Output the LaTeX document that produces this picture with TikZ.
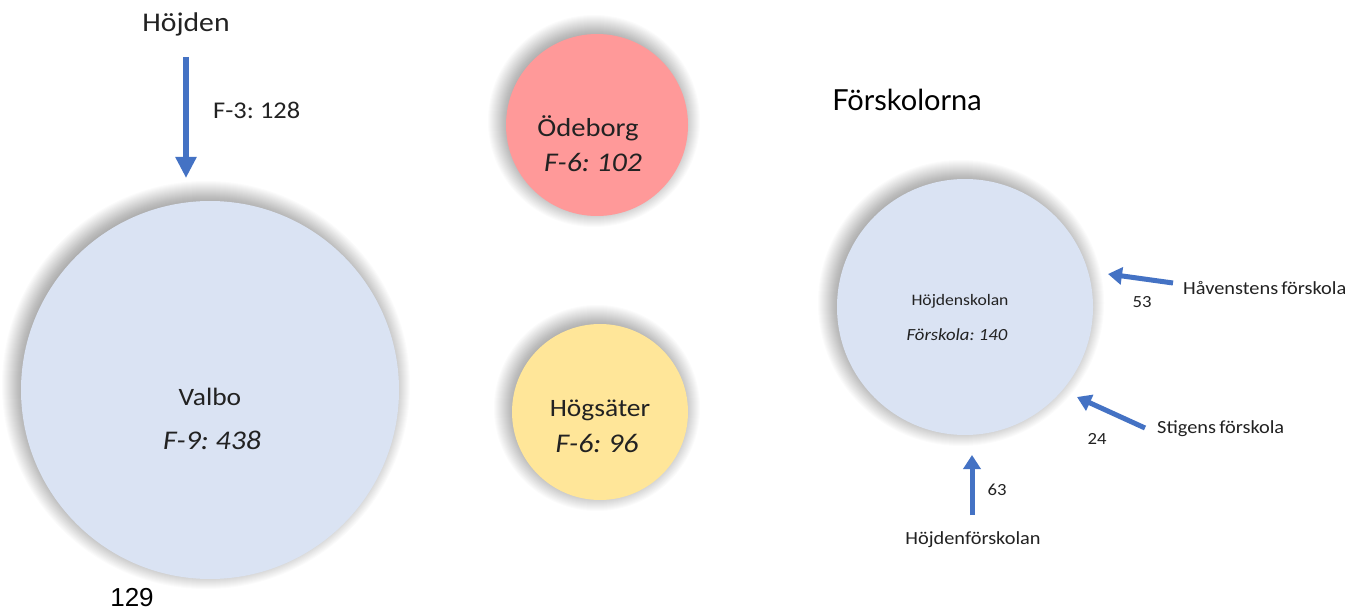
\documentclass[tikz,border=0pt]{standalone}
\usepackage{fontspec}
\setmainfont[FakeStretch=1.1,WordSpace=0.7]{Carlito}
\newfontfamily\latofont{Lato}
\newfontfamily\arialfont{Liberation Sans}
\usetikzlibrary{arrows.meta}
\definecolor{arrowblue}{HTML}{4472C4}
\definecolor{paleblue}{HTML}{DAE3F3}
\definecolor{salmon}{HTML}{FF9999}
\definecolor{paleyellow}{HTML}{FFE699}
\definecolor{txt}{HTML}{222222}
\newcommand\bubshadow[3]{%
  \foreach \k in {1,...,22}{\fill[black, opacity=0.016] (#1,#2) circle[radius=#3+\k];}}
\tikzset{
  bubble/.style={circle, inner sep=0pt, draw=none},
  lbl/.style={inner sep=0pt, text=txt, anchor=center},
  bigflow/.style={draw=arrowblue, line width=6.5pt, -{Triangle[width=20pt,length=21pt]}},
  smallflow/.style={draw=arrowblue, line width=5pt, -{Triangle[width=17pt,length=14pt]}},
}
\begin{document}
\begin{tikzpicture}[x=1pt,y=-1pt]
\fill[white] (0,0) rectangle (1355,612);
\useasboundingbox (0,0) rectangle (1355,612);

% shadows
\bubshadow{206}{385}{182}
\bubshadow{594}{121}{84}
\bubshadow{597}{408}{81}
\bubshadow{961}{303}{121}

% circles
\node[bubble, fill=paleblue, minimum size=378pt] (valbo) at (210,390) {};
\node[bubble, fill=salmon, minimum size=182pt] (odeborg) at (597,125) {};
\node[bubble, fill=paleyellow, minimum size=176pt] (hogsater) at (600,412) {};
\node[bubble, fill=paleblue, minimum size=256pt] (hojdenskolan) at (965,307) {};

% circle texts
\node[lbl, font=\fontsize{25}{30}\selectfont] (valboname) at (210,397) {Valbo};
\node[lbl, font=\fontsize{27}{32}\selectfont\itshape] (valbonum) at (212,440) {F-9: 438};
\node[lbl, font=\fontsize{26}{30}\selectfont] (odename) at (588,128) {Ödeborg};
\node[lbl, font=\fontsize{27}{32}\selectfont\itshape] (odenum) at (593,162) {F-6: 102};
\node[lbl, font=\fontsize{25}{30}\selectfont] (hogname) at (600,410) {Högsäter};
\node[lbl, font=\fontsize{27}{32}\selectfont\itshape] (hognum) at (597,443) {F-6: 96};
\node[lbl, font=\fontsize{16}{20}\selectfont] (hsname) at (960,301) {Höjdenskolan};
\node[lbl, font=\fontsize{17}{20}\selectfont\itshape] (hsnum) at (957,335) {Förskola: 140};

% other texts
\node[lbl, font=\fontsize{27}{32}\selectfont] (hojden) at (186,24) {Höjden};
\node[lbl, font=\fontsize{24}{28}\selectfont, anchor=west] (f3) at (213,110) {F-3: 128};
\node[lbl, font=\latofont\fontsize{29}{34}\selectfont, text=black] (forsk) at (907,100) {Förskolorna};
\node[lbl, font=\fontsize{18.5}{22}\selectfont, anchor=west] (havname) at (1183,288) {Håvenstens förskola};
\node[lbl, font=\fontsize{17}{20}\selectfont] (n53) at (1142,302) {53};
\node[lbl, font=\fontsize{18.5}{22}\selectfont, anchor=west] (stigname) at (1157,429) {Stigens förskola};
\node[lbl, font=\fontsize{17}{20}\selectfont] (n24) at (1097,439) {24};
\node[lbl, font=\fontsize{17}{20}\selectfont] (n63) at (997,490) {63};
\node[lbl, font=\fontsize{18.5}{22}\selectfont] (hfname) at (973,540) {Höjdenförskolan};
\node[lbl, font=\arialfont\fontsize{26}{30}\selectfont, text=black] (n129) at (132,598) {129};

% arrows
\coordinate (a1s) at (186,57);
\coordinate (a1e) at (186,178);
\draw[bigflow] (a1s) -- (a1e);
\coordinate (a2s) at (1173,283);
\coordinate (a2e) at (1108,274);
\draw[smallflow] (a2s) -- (a2e);
\coordinate (a3s) at (1145,428);
\coordinate (a3e) at (1077,397);
\draw[smallflow] (a3s) -- (a3e);
\coordinate (a4s) at (972,515);
\coordinate (a4e) at (972,455);
\draw[smallflow] (a4s) -- (a4e);
\end{tikzpicture}
\end{document}
